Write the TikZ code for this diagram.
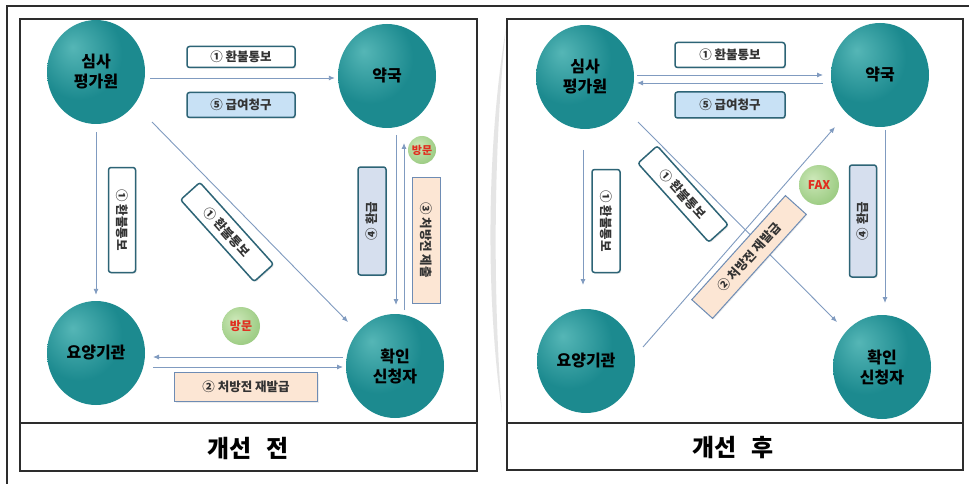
\documentclass[tikz,border=0pt]{standalone}
\usepackage{fontspec}
\setmainfont{Noto Sans CJK KR}
\usetikzlibrary{arrows.meta,calc,shapes.geometric,shadows}
\definecolor{tealmid}{RGB}{28,138,143}
\definecolor{tealhi}{RGB}{85,182,182}
\definecolor{tealdk}{RGB}{16,108,114}
\definecolor{arrowc}{RGB}{128,155,192}
\definecolor{boxedge}{RGB}{45,100,118}
\definecolor{boxblue}{RGB}{200,225,245}
\definecolor{boxgray}{RGB}{214,223,238}
\definecolor{peach}{RGB}{252,230,212}
\definecolor{peachedge}{RGB}{110,140,180}
\definecolor{greenc}{RGB}{160,206,135}
\definecolor{greenhi}{RGB}{205,232,185}
\definecolor{greendk}{RGB}{130,185,110}
\definecolor{redtxt}{RGB}{225,45,30}
\definecolor{framec}{RGB}{45,45,45}
\pgfdeclareradialshading{tealball}{\pgfpoint{-12bp}{12bp}}{color(0bp)=(tealhi); color(22bp)=(tealmid); color(45bp)=(tealmid); color(62bp)=(tealdk); color(80bp)=(tealdk)}
\pgfdeclareradialshading{greenball}{\pgfpoint{-8bp}{8bp}}{color(0bp)=(greenhi); color(28bp)=(greenc); color(55bp)=(greendk); color(70bp)=(greendk)}
\tikzset{
  ball/.style={ellipse, minimum width=98pt, minimum height=104pt, inner sep=0pt, shade, shading=tealball, font=\fontsize{16}{20}\selectfont\bfseries, align=center, text=black},
  visit/.style={circle, inner sep=0pt, shade, shading=greenball, text=redtxt, font=\fontsize{11}{12}\selectfont\bfseries},
  arr/.style={draw=arrowc, line width=0.9pt, -{Latex[length=6pt,width=5pt]}},
  wbox/.style={draw=boxedge, line width=1.5pt, fill=white, rounded corners=2.5pt, inner sep=0pt, font=\fontsize{12.5}{14}\selectfont\bfseries, text=black!80, drop shadow={opacity=0.18, shadow xshift=1.2pt, shadow yshift=-1.2pt}},
  bbox/.style={wbox, fill=boxblue},
  gbox/.style={wbox, fill=boxgray},
  pbox/.style={draw=peachedge, line width=1pt, fill=peach, inner sep=0pt, font=\fontsize{12.5}{14}\selectfont\bfseries, text=black!80, drop shadow={opacity=0.15, shadow xshift=1pt, shadow yshift=-1pt}},
  title/.style={font=\fontsize{24}{26}\selectfont\bfseries, text=black},
  panel/.style={draw=framec, line width=1.1pt}
}
\begin{document}
\begin{tikzpicture}[x=1pt, y=-1pt]
\useasboundingbox (0,0) rectangle (969,484);
\fill[white] (0,0) rectangle (969,484);
% outer frame
\draw[framec, line width=1.4pt] (7,484) -- (7,6) -- (969,6);
% page curl between panels
\fill[black!10] (506,28) .. controls (486,150) and (486,300) .. (502,412) .. controls (493,300) and (493,150) .. (506,28);
% panels
\draw[panel] (20,19) rectangle (477,471);
\draw[panel] (20,423) -- (477,423);
\node[title] (t1) at (248,448) {개선\hspace{14pt}전};
\draw[panel] (507,19) rectangle (963,470);
\draw[panel] (507,423) -- (963,423);
\node[title] (t2) at (733,448) {개선\hspace{14pt}후};

% ===== left panel =====
\node[ball] (sa1) at (96,72) {심사\\평가원};
\node[ball] (yak1) at (387,76) {약국};
\node[ball] (yo1) at (96,353) {요양기관};
\node[ball] (hw1) at (395,366) {확인\\신청자};

\draw[arr] ($(sa1.east)+(5,6)$) -- ($(yak1.west)+(-3,2)$);
\draw[arr] ($(sa1.south)+(0,8)$) -- ($(yo1.north)+(0,-6)$);
\draw[arr] ($(sa1)+(56,50)$) -- ($(hw1)+(-47,-44)$);
\draw[arr] ($(yak1)+(9,59)$) -- ($(hw1)+(1,-61)$);
\draw[arr] ($(hw1)+(9,-56)$) -- ($(yak1)+(17,67)$);
\draw[arr] ($(hw1)+(-52,-9)$) -- ($(yo1)+(57,4)$);
\draw[arr] ($(yo1)+(57,14)$) -- ($(hw1)+(-52,1)$);

\node[wbox, minimum width=108pt, minimum height=21pt] (b1) at (241,57) {① 환불통보};
\node[bbox, minimum width=108pt, minimum height=25pt] (b5) at (241,105) {⑤ 급여청구};
\node[wbox, minimum width=105pt, minimum height=27pt, rotate=-90] (bv1) at (122,220) {① 환불통보};
\node[wbox, minimum width=110pt, minimum height=26pt, rotate=-48] (bd1) at (227,232) {① 환불통보};
\node[gbox, minimum width=108pt, minimum height=28pt, rotate=90] (b4) at (372,221) {④ 환급};
\node[pbox, minimum width=126pt, minimum height=28pt, rotate=-90] (b3) at (426,240) {③ 처방전 제출};
\node[visit, minimum size=28pt] (v1) at (422,150) {방문};
\node[pbox, minimum width=143pt, minimum height=29pt] (b2) at (246,387) {② 처방전 재발급};
\node[visit, minimum size=38pt, font=\fontsize{12}{13}\selectfont\bfseries] (v2) at (241,326) {방문};

% ===== right panel =====
\node[ball] (sa2) at (585,77) {심사\\평가원};
\node[ball] (yak2) at (880,75) {약국};
\node[ball] (yo2) at (586,361) {요양기관};
\node[ball] (hw2) at (882,367) {확인\\신청자};

\draw[arr] ($(sa2)+(52,-2)$) -- ($(yak2)+(-57,0)$);
\draw[arr] ($(yak2)+(-57,8)$) -- ($(sa2)+(52,6)$);
\draw[arr] ($(sa2)+(-2,73)$) -- ($(yo2)+(-3,-76)$);
\draw[arr] ($(sa2)+(53,45)$) -- ($(hw2)+(-45,-45)$);
\draw[arr] ($(yo2)+(57,-14)$) -- ($(yak2)+(-45,52)$);
\draw[arr] ($(yak2)+(5,55)$) -- ($(hw2)+(3,-64)$);

\node[wbox, minimum width=110pt, minimum height=25pt] (b1r) at (730,55) {① 환불통보};
\node[bbox, minimum width=110pt, minimum height=26pt] (b5r) at (730,105) {⑤ 급여청구};
\node[wbox, minimum width=103pt, minimum height=28pt, rotate=-90] (bv1r) at (606,221) {① 환불통보};
\node[wbox, minimum width=106pt, minimum height=26pt, rotate=-48] (bd1r) at (683,194) {① 환불통보};
\node[pbox, minimum width=140pt, minimum height=28pt, rotate=48] (bd2r) at (749,257) {② 처방전 재발급};
\node[gbox, minimum width=112pt, minimum height=27pt, rotate=90] (b4r) at (863,221) {④ 환급};
\node[visit, minimum size=40pt, font=\fontsize{12}{13}\selectfont\bfseries] (fax) at (819,185) {FAX};
\end{tikzpicture}
\end{document}
